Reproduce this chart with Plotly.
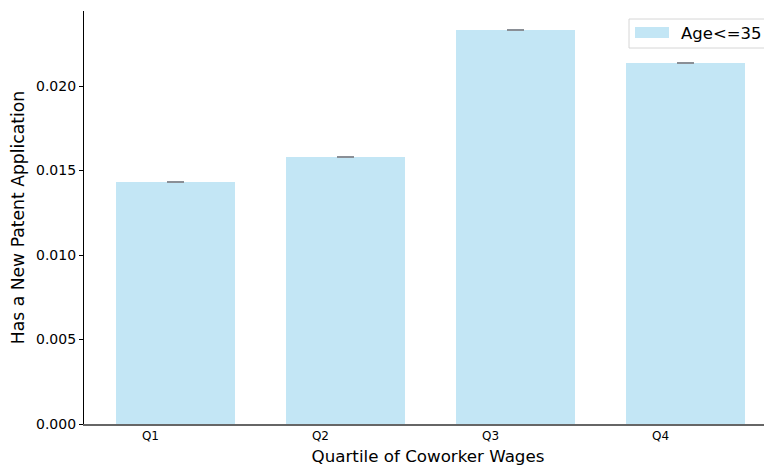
import plotly.graph_objects as go

# quartile bars for the Age<=35 group
quartiles = ["Q1", "Q2", "Q3", "Q4"]
positions = [0, 1, 2, 3]
patent_rate = [0.01432, 0.01580, 0.02331, 0.02136]
patent_err = [0.00002, 0.00002, 0.00002, 0.00002]
tick_pos = [p - 0.15 for p in positions]
series_name = "Age<=35"
bar_color = "rgba(135,206,235,0.5)"

# page body has an 8px margin, so the figure is 8px smaller than the window
W, H = 764, 458
ML, MT, MB = 76, 3, 42
PW, PH = W - ML, H - MT - MB


def px_x(x):
    return (x - 8 - ML) / PW


def px_y(y):
    return 1 - (y - 8 - MT) / PH


fig = go.Figure()

fig.add_trace(go.Bar(
    x=positions,
    y=patent_rate,
    width=0.7,
    name=series_name,
    showlegend=False,
    marker=dict(color=bar_color, line=dict(width=0)),
    error_y=dict(type="data", array=patent_err, visible=True,
                 color="#8a8f96", thickness=2, width=8.5),
))

# matplotlib-like legend box
fig.add_shape(type="rect", xref="paper", yref="paper",
              x0=px_x(629), x1=px_x(768), y0=px_y(48), y1=px_y(19),
              line=dict(color="#d6d6d6", width=1), fillcolor="rgba(255,255,255,0.8)")
fig.add_shape(type="rect", xref="paper", yref="paper",
              x0=px_x(635), x1=px_x(669), y0=px_y(38), y1=px_y(27),
              line=dict(width=0), fillcolor=bar_color)
fig.add_annotation(xref="paper", yref="paper", x=px_x(680), y=px_y(33),
                   xanchor="left", yanchor="middle", showarrow=False,
                   text=series_name, borderpad=0,
                   font=dict(size=16.5, family="DejaVu Sans", color="black"))

fig.update_layout(
    width=W, height=H,
    margin=dict(l=ML, r=0, t=MT, b=MB),
    plot_bgcolor="white",
    paper_bgcolor="white",
    font=dict(family="DejaVu Sans", color="black"),
    showlegend=False,
    bargap=0,
)

fig.update_xaxes(
    range=[-0.541, 3.506],
    tickmode="array",
    tickvals=tick_pos,
    ticktext=quartiles,
    ticks="",
    tickfont=dict(size=12),
    showline=True, linecolor="#666666", linewidth=1.5,
    showgrid=False, zeroline=False,
    title=dict(text="Quartile of Coworker Wages", font=dict(size=16.7), standoff=9),
)

fig.update_yaxes(
    range=[0, 0.02444],
    tickvals=[0, 0.005, 0.010, 0.015, 0.020],
    ticktext=["0.000", "0.005", "0.010", "0.015", "0.020"],
    ticks="outside", ticklen=4, tickcolor="black",
    tickfont=dict(size=14),
    showline=True, linecolor="black", linewidth=1.2,
    showgrid=False, zeroline=False,
    title=dict(text="Has a New Patent Application", font=dict(size=17.2), standoff=8),
)

fig.write_html("out.html")
